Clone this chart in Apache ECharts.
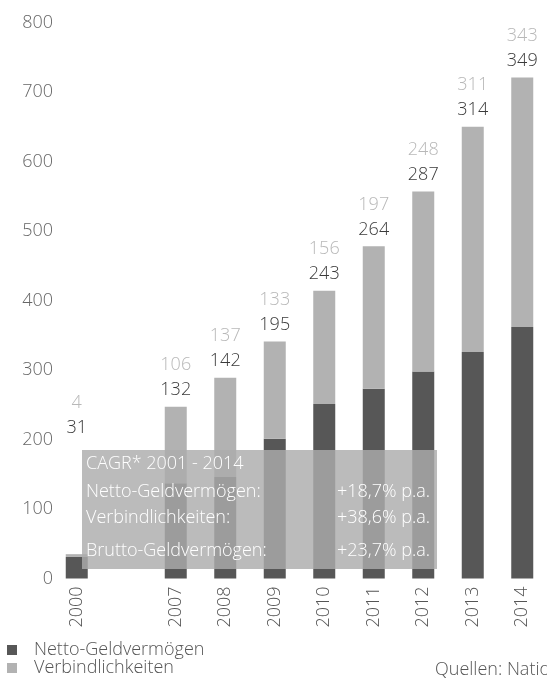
<!DOCTYPE html>
<html>
<head>
<meta charset="utf-8">
<script src="https://cdn.jsdelivr.net/npm/echarts@6/dist/echarts.min.js"></script>
<style>
html,body{margin:0;padding:0;background:#fff;}
#c{width:547px;height:686px;}
</style>
</head>
<body>
<div id="c"></div>
<script>
// Categories (blank slot marks the gap between 2000 and 2007)
const categories = ['2000', '', '2007', '2008', '2009', '2010', '2011', '2012', '2013', '2014'];
// Bar heights
const nettoBars = [31, null, 137, 146, 201, 251, 273, 298, 326, 362];
const verbBars  = [4, null, 110, 143, 140, 163, 205, 259, 324, 359];
// Printed value labels
const nettoLabels = [31, null, 132, 142, 195, 243, 264, 287, 314, 349];
const verbLabels  = [4, null, 106, 137, 133, 156, 197, 248, 311, 343];
// Y axis ticks
const yMin = 0, yMax = 800, yStep = 100;
// CAGR box texts
const cagrTitle = 'CAGR* 2001 - 2014';
const cagrNames = ['Netto-Geldvermögen:', 'Verbindlichkeiten:', 'Brutto-Geldvermögen:'];
const cagrValues = ['+18,7% p.a.', '+38,6% p.a.', '+23,7% p.a.'];
const sourceText = 'Quellen: Nationalbanken';

const FONT = "'Open Sans', 'Noto Sans', sans-serif";
const FS = 18;
const DARK = '#575757', LIGHT = '#b2b2b2';

const chart = echarts.init(document.getElementById('c'), null, {renderer: 'canvas'});

const verbData = verbBars.map((v, i) => {
  const item = {value: v};
  if (i === 0) item.label = {offset: [0, -110]};
  return item;
});

const boxFont = '300 ' + FS + 'px ' + FONT;
const boxTexts = [];
boxTexts.push({type: 'text', x: 86, y: 464, z: 101,
  style: {text: cagrTitle, fill: '#fff', font: boxFont, textVerticalAlign: 'middle'}});
const rowY = [492, 518, 551];
cagrNames.forEach((n, i) => {
  boxTexts.push({type: 'text', x: 86, y: rowY[i], z: 101,
    style: {text: n, fill: '#fff', font: boxFont, textVerticalAlign: 'middle'}});
  boxTexts.push({type: 'text', x: 430, y: rowY[i], z: 101,
    style: {text: cagrValues[i], fill: '#fff', font: boxFont, textAlign: 'right', textVerticalAlign: 'middle'}});
});

chart.setOption({
  animation: false,
  backgroundColor: '#fff',
  textStyle: {fontFamily: FONT, fontWeight: 300},
  grid: {left: 52, right: -13.5, top: 22.5, bottom: 107.5, containLabel: false},
  legend: {
    orient: 'vertical', left: 7, top: 641, padding: 0, height: 40,
    itemWidth: 10, itemHeight: 10, itemGap: 0, icon: 'rect',
    data: ['Netto-Geldvermögen', 'Verbindlichkeiten'],
    textStyle: {fontFamily: FONT, fontWeight: 300, fontSize: FS, color: '#555', lineHeight: 18, padding: [0, 0, 0, 12]}
  },
  xAxis: {
    type: 'category', data: categories,
    axisLine: {show: false}, axisTick: {show: false},
    axisLabel: {rotate: 90, margin: 8, fontFamily: FONT, fontWeight: 300, fontSize: FS, color: '#555'}
  },
  yAxis: {
    type: 'value', min: yMin, max: yMax, interval: yStep,
    splitLine: {show: false}, axisLine: {show: false}, axisTick: {show: false},
    axisLabel: {margin: -1, fontFamily: FONT, fontWeight: 300, fontSize: FS, color: '#666'}
  },
  series: [
    {name: 'Netto-Geldvermögen', type: 'bar', stack: 's', data: nettoBars, barWidth: 22,
     itemStyle: {color: DARK}},
    {name: 'Verbindlichkeiten', type: 'bar', stack: 's', data: verbData, barWidth: 22,
     itemStyle: {color: LIGHT},
     label: {
       show: true, position: 'top', distance: 4,
       formatter: p => '{a|' + verbLabels[p.dataIndex] + '}\n{b|' + nettoLabels[p.dataIndex] + '}',
       rich: {
         a: {fontFamily: FONT, fontWeight: 300, fontSize: FS, color: '#b8b8b8', lineHeight: 25, align: 'center'},
         b: {fontFamily: FONT, fontWeight: 300, fontSize: FS, color: '#3a3a3a', lineHeight: 25, align: 'center'}
       }
     }}
  ],
  graphic: [
    {type: 'rect', z: 100, shape: {x: 82, y: 450, width: 355, height: 119},
     style: {fill: 'rgba(172,172,172,0.82)'}},
    ...boxTexts,
    {type: 'text', x: 435, y: 670, z: 101,
     style: {text: sourceText, fill: '#555', font: boxFont, textVerticalAlign: 'middle'}}
  ]
});
</script>
</body>
</html>
